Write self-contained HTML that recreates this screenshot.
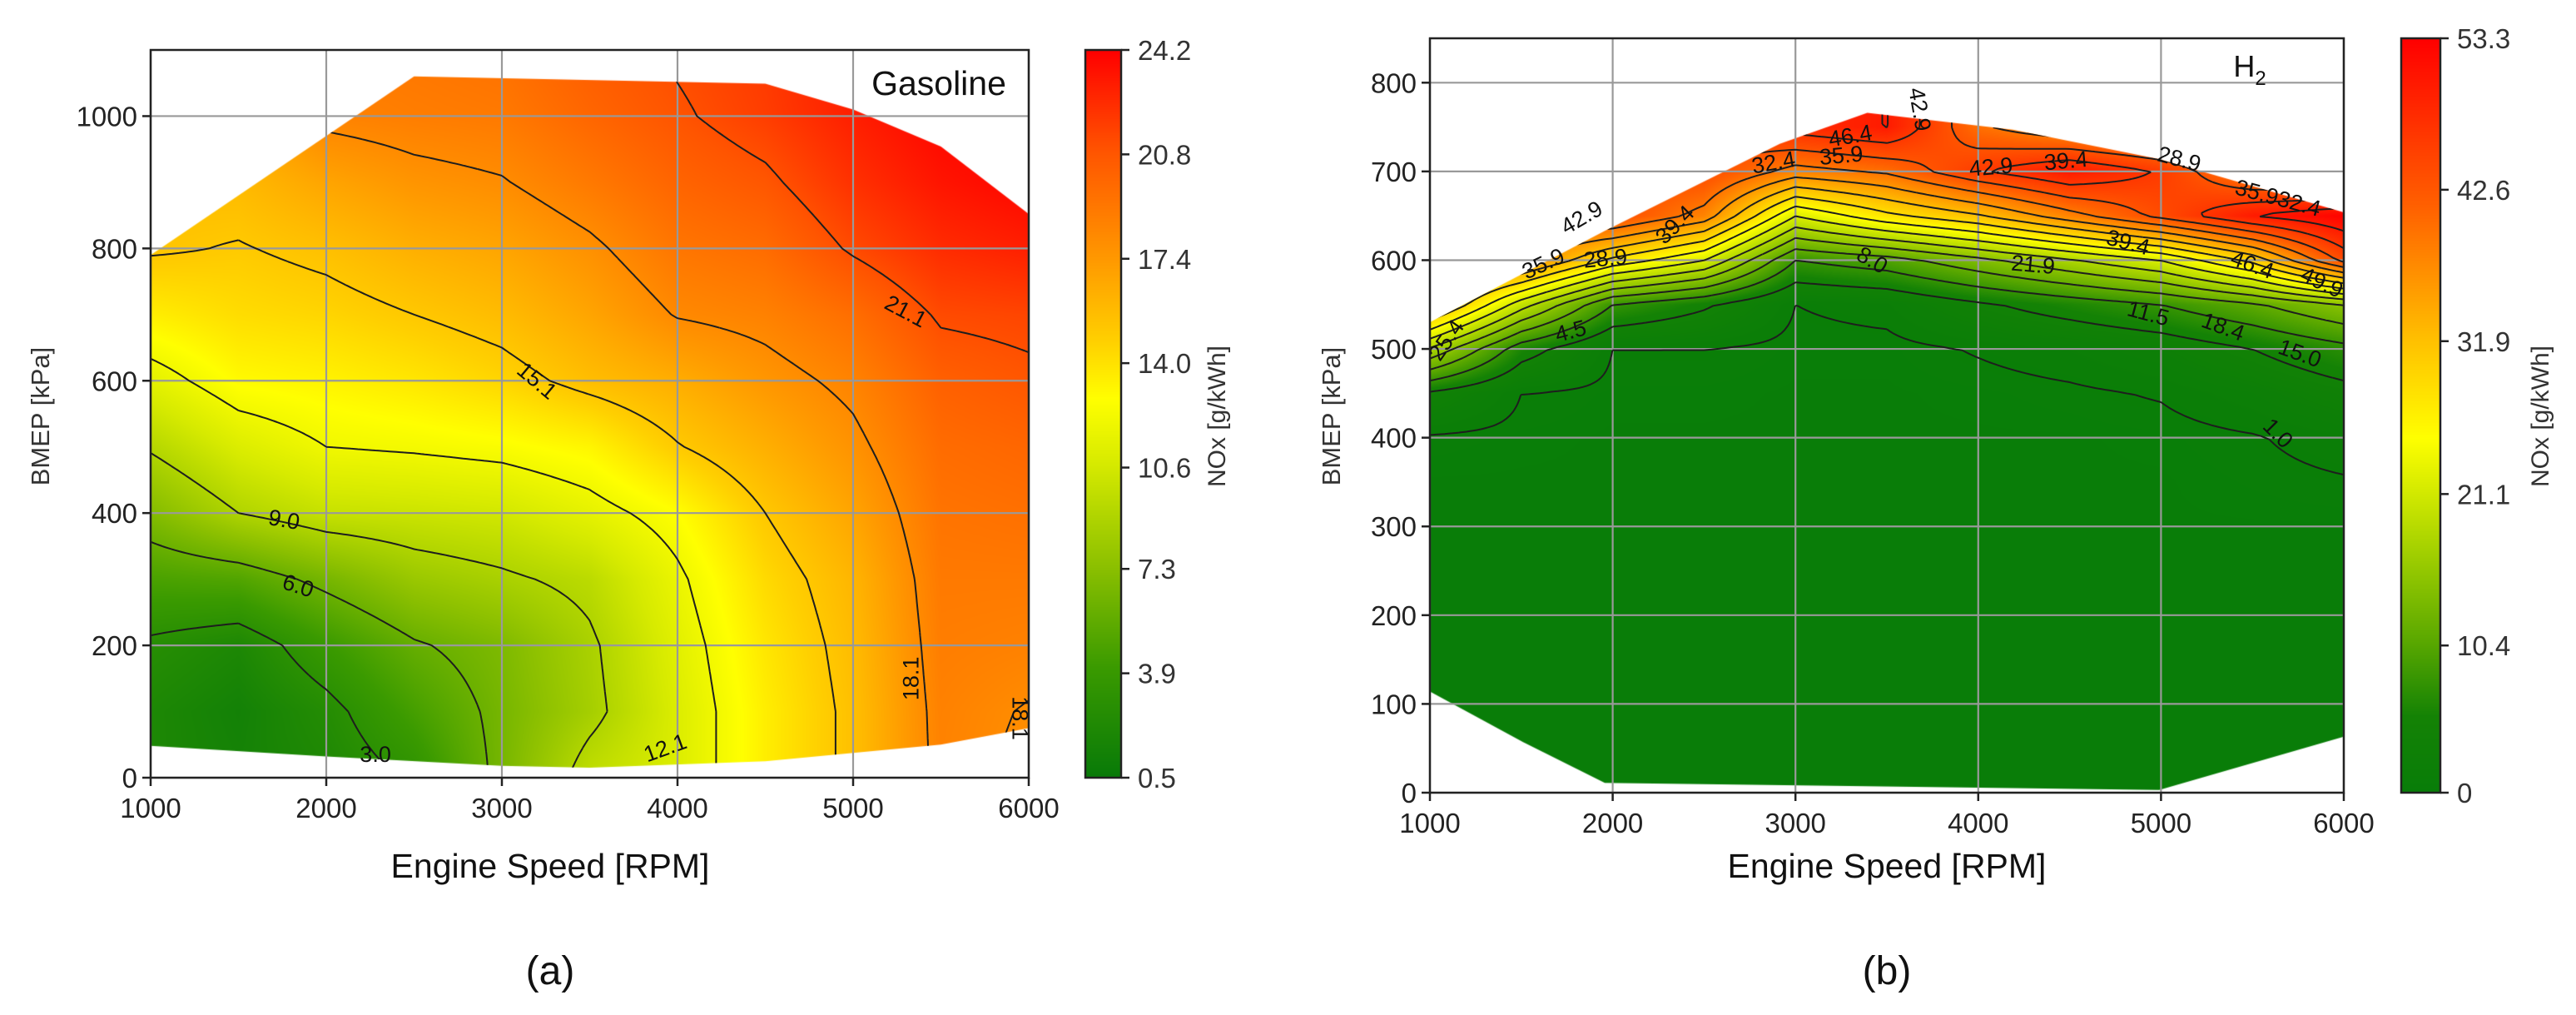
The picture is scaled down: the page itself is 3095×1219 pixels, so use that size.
<!DOCTYPE html>
<html><head><meta charset="utf-8">
<style>
html,body{margin:0;padding:0;background:#fff;}
#root{position:relative;width:3095px;height:1219px;overflow:hidden;font-family:"Liberation Sans",sans-serif;}
canvas{position:absolute;}
svg{position:absolute;left:0;top:0;}
</style></head>
<body>
<div id="root">
<canvas id="cvA"></canvas>
<canvas id="cvB"></canvas>
<canvas id="cbA"></canvas>
<canvas id="cbB"></canvas>
<svg id="ov" width="3095" height="1219" xmlns="http://www.w3.org/2000/svg"></svg>
</div>
<script>
// ---------- Data: Gasoline ----------
const gasRpm=[1000,1500,2000,2500,3000,3500,4000,4500,5000,5500,6000];
const gasBmep=[0,100,200,300,400,500,600,700,800,900,1000,1100];
// NOx [g/kWh], one array per rpm column, values per bmep row
const gasNox=[
[2.0,2.0,2.7,4.7,7.0,9.2,11.4,13.5,15.3,15.6,15.8,16.0],
[1.5,1.3,2.0,5.0,9.0,11.0,13.0,14.2,15.0,15.8,16.5,17.0],
[2.0,2.5,4.0,6.5,10.0,12.1,13.3,14.5,15.5,16.8,18.5,19.0],
[3.2,4.5,5.8,8.0,10.2,12.3,13.8,15.1,16.3,17.6,18.8,19.2],
[6.5,6.5,6.8,8.7,10.5,12.6,14.5,15.7,16.8,18.0,19.0,19.5],
[9.8,8.5,8.7,9.5,11.5,13.2,15.6,16.8,17.8,19.0,20.0,20.5],
[11.0,11.0,11.3,11.8,12.8,15.0,16.4,18.2,19.2,20.1,20.9,21.3],
[13.5,13.5,13.8,14.3,15.1,16.3,17.5,18.6,19.7,20.8,21.8,22.0],
[15.5,15.5,15.7,16.0,16.8,17.7,18.5,19.6,21.3,22.3,23.0,23.3],
[18.5,18.6,18.8,19.0,19.3,19.7,20.3,21.3,22.5,23.4,24.0,24.2],
[17.8,18.0,18.6,19.0,19.5,20.0,20.8,21.5,23.0,24.0,24.2,24.2]];
const gasBoundRpm=[1000,2000,3000,3500,4500,5500,6000,6000,5500,5000,4500,2500,1000];
const gasBoundBmep=[48,32,18,15,25,50,75,852,954,1010,1049,1060,790];
const gasLevels=[3.0,6.0,9.0,12.1,15.1,18.1,21.1];
const gasCbTicks=["0.5","3.9","7.3","10.6","14.0","17.4","20.8","24.2"];
const gasLabelText=["3.0","6.0","9.0","12.1","15.1","18.1","21.1","18.1"];
const gasLabelRpm=[2280,1840,1760,3930,3200,5330,5300,5950];
const gasLabelBmep=[35,290,390,45,600,150,705,90];
const gasLabelAng=[0,18,10,-20,40,-90,28,90];
// ---------- Data: H2 ----------
const h2Rpm=[1000,1500,2000,2500,3000,3500,4000,4500,5000,5500,6000];
const h2Bmep=[0,50,100,150,200,250,300,350,400,450,500,550,600,650,700,750,800,850];
const h2Nox=[
[0.5,0.5,0.5,0.5,0.5,0.5,0.5,0.5,0.8,4,18,35,40,40,40,40,40,40],
[0.5,0.5,0.5,0.5,0.5,0.5,0.5,0.5,0.6,1.0,6,20,38,42,42,42,42,42],
[0.5,0.5,0.5,0.5,0.5,0.5,0.5,0.5,0.5,0.6,1.0,8,28,44,44,44,44,44],
[0.5,0.5,0.5,0.5,0.5,0.5,0.5,0.5,0.5,0.6,1.0,5,22,38,44,44,44,44],
[0.5,0.5,0.5,0.5,0.5,0.5,0.5,0.5,0.5,0.5,0.6,1.0,8,22,38,48,48,48],
[0.5,0.5,0.5,0.5,0.5,0.5,0.5,0.5,0.5,0.5,0.6,1.5,10,28,40,50,50,50],
[0.5,0.5,0.5,0.5,0.5,0.5,0.5,0.5,0.5,0.6,1.1,4,14,32,46,40,40,40],
[0.5,0.5,0.5,0.5,0.5,0.5,0.5,0.5,0.5,0.8,1.6,6,18,38,50,36,36,36],
[0.5,0.5,0.5,0.5,0.5,0.5,0.5,0.5,0.6,1.1,2.5,8,22,44,46,34,34,34],
[0.5,0.5,0.5,0.5,0.5,0.5,0.5,0.7,0.9,2.0,4.5,11,30,50,38,34,34,34],
[0.5,0.5,0.5,0.5,0.5,0.5,0.5,0.9,1.5,3.5,7,15,44,53,35,32,32,32]];
const h2BoundRpm=[1000,1510,1957,4990,6000,6000,4988,4190,3393,2914,1957,1000];
const h2BoundBmep=[114,57,11,3,63,654,714,747,766,731,633,530];
const h2Levels=[1.0,4.5,8.0,11.5,15.0,18.4,21.9,25.4,28.9,32.4,35.9,39.4,42.9,46.4,49.9];
const h2CbTicks=["0","10.4","21.1","31.9","42.6","53.3"];
const h2LabelText=["25.4","35.9","28.9","39.4","42.9","32.4","35.9","46.4","42.9","42.9","39.4","28.9","35.932.4","39.4","21.9","8.0","4.5","11.5","18.4","46.4","49.9","15.0","1.0"];
const h2LabelRpm=[1090,1620,1960,2340,1830,2880,3250,3300,3680,4070,4480,5100,5640,4820,4300,3420,1770,4930,5340,5500,5880,5760,5640];
const h2LabelBmep=[510,596,602,640,648,710,718,740,770,705,712,714,670,620,595,600,520,540,525,595,575,495,405];
const h2LabelAng=[-55,-25,-5,-45,-30,-10,-5,-10,80,-5,-5,15,15,15,5,30,-15,15,20,20,25,20,45];

// ---------- Layout ----------
const P={
 a:{l:181,r:1236,t:60,b:934,x0:1000,x1:6000,y0:0,y1:1100},
 b:{l:1718,r:2816,t:46,b:952,x0:1000,x1:6000,y0:0,y1:850}};
function sx(p,v){return p.l+(v-p.x0)/(p.x1-p.x0)*(p.r-p.l);}
function sy(p,v){return p.b-(v-p.y0)/(p.y1-p.y0)*(p.b-p.t);}
const cmapA=[[0,[8,122,8]],[0.15,[58,154,0]],[0.29,[140,192,0]],[0.43,[214,234,0]],[0.52,[255,255,0]],[0.6,[255,208,0]],[0.71,[255,154,0]],[0.86,[255,85,0]],[1,[255,0,0]]];
const cmapB=[[0,[8,125,8]],[0.1,[20,130,5]],[0.2,[90,168,0]],[0.38,[200,228,0]],[0.47,[255,255,0]],[0.6,[255,192,0]],[0.78,[255,95,0]],[1,[255,0,0]]];
function cm(st,t){t=Math.max(0,Math.min(1,t));for(let i=1;i<st.length;i++){if(t<=st[i][0]){const a=st[i-1],b=st[i],f=(t-a[0])/(b[0]-a[0]);return [0,1,2].map(k=>Math.round(a[1][k]+(b[1][k]-a[1][k])*f));}}return st[st.length-1][1];}
function field(xs,ys,z,x,y){
 let i=0;while(i<xs.length-2&&x>xs[i+1])i++;
 let j=0;while(j<ys.length-2&&y>ys[j+1])j++;
 let fx=(x-xs[i])/(xs[i+1]-xs[i]),fy=(y-ys[j])/(ys[j+1]-ys[j]);
 fx=Math.max(0,Math.min(1,fx));fy=Math.max(0,Math.min(1,fy));
 const a=z[i][j],b=z[i+1][j],c=z[i][j+1],d=z[i+1][j+1];
 return a*(1-fx)*(1-fy)+b*fx*(1-fy)+c*(1-fx)*fy+d*fx*fy;
}
const NS='http://www.w3.org/2000/svg';
const ov=document.getElementById('ov');
function el(tag,attrs,parent){const e=document.createElementNS(NS,tag);for(const k in attrs)e.setAttribute(k,attrs[k]);(parent||ov).appendChild(e);return e;}
function txt(s,x,y,size,anchor,extra,parent){const t=el('text',Object.assign({x:x,y:y,'font-size':size,'text-anchor':anchor||'middle','font-family':'Liberation Sans, sans-serif',fill:'#222'},extra||{}),parent);t.textContent=s;return t;}

function drawPanel(key,xs,ys,z,vmin,vmax,cmap,bR,bB,levels,lt,lr,lb,la,cvId,yStep,name){
 const p=P[key];
 const W=p.r-p.l,H=p.b-p.t;
 const cv=document.getElementById(cvId);cv.width=W;cv.height=H;cv.style.left=p.l+'px';cv.style.top=p.t+'px';
 const off=document.createElement('canvas');off.width=W;off.height=H;
 const octx=off.getContext('2d');const img=octx.createImageData(W,H);
 for(let py=0;py<H;py++){const yv=p.y1-(py+0.5)/H*(p.y1-p.y0);
  for(let px=0;px<W;px++){const xv=p.x0+(px+0.5)/W*(p.x1-p.x0);
   const v=field(xs,ys,z,xv,yv);const c=cm(cmap,(v-vmin)/(vmax-vmin));const o=(py*W+px)*4;
   img.data[o]=c[0];img.data[o+1]=c[1];img.data[o+2]=c[2];img.data[o+3]=255;}}
 octx.putImageData(img,0,0);
 const ctx=cv.getContext('2d');ctx.save();ctx.beginPath();
 bR.forEach((r,i)=>{const X=sx(p,r)-p.l,Y=sy(p,bB[i])-p.t;i?ctx.lineTo(X,Y):ctx.moveTo(X,Y);});
 ctx.closePath();ctx.clip();ctx.drawImage(off,0,0);ctx.restore();
 const defs=el('defs',{});const cp=el('clipPath',{id:'clip'+key},defs);
 el('polygon',{points:bR.map((r,i)=>sx(p,r)+','+sy(p,bB[i])).join(' ')},cp);
 const g=el('g',{});
 for(let x=p.x0;x<=p.x1;x+=1000){el('line',{x1:sx(p,x),x2:sx(p,x),y1:p.t,y2:p.b,stroke:'#999','stroke-width':2.2},g);}
 for(let y=0;y<=p.y1;y+=yStep){el('line',{x1:p.l,x2:p.r,y1:sy(p,y),y2:sy(p,y),stroke:'#999','stroke-width':2.2},g);}
 const cg=el('g',{'clip-path':'url(#clip'+key+')',fill:'none',stroke:'#1e1e1e','stroke-width':2});
 
 const NX=250,NY=220;const gx=[],gy=[];for(let i=0;i<=NX;i++)gx.push(p.x0+(p.x1-p.x0)*i/NX);for(let j=0;j<=NY;j++)gy.push(p.y0+(p.y1-p.y0)*j/NY);
 const V=gx.map(x=>gy.map(y=>field(xs,ys,z,x,y)));
 levels.forEach(L=>{let d='';
  for(let i=0;i<NX;i++)for(let j=0;j<NY;j++){
   const a=V[i][j],b=V[i+1][j],c=V[i+1][j+1],e=V[i][j+1];
   const pts=[];
   const ed=(v1,v2,x1,y1,x2,y2)=>{if((v1<L)!==(v2<L)){const f=(L-v1)/(v2-v1);pts.push([x1+(x2-x1)*f,y1+(y2-y1)*f]);}};
   ed(a,b,gx[i],gy[j],gx[i+1],gy[j]);ed(b,c,gx[i+1],gy[j],gx[i+1],gy[j+1]);ed(c,e,gx[i+1],gy[j+1],gx[i],gy[j+1]);ed(e,a,gx[i],gy[j+1],gx[i],gy[j]);
   for(let k=0;k+1<pts.length;k+=2){d+='M'+sx(p,pts[k][0]).toFixed(1)+' '+sy(p,pts[k][1]).toFixed(1)+'L'+sx(p,pts[k+1][0]).toFixed(1)+' '+sy(p,pts[k+1][1]).toFixed(1);}
  }
  if(d){const path=el('path',{d:d},cg);}
 });
 lt.forEach((s,i)=>{const X=sx(p,lr[i]),Y=sy(p,lb[i]);
  const t=txt(s,X,Y+9,27,'middle',{transform:'rotate('+la[i]+' '+X+' '+Y+')',fill:'#111'});
  });
 const fr=el('rect',{x:p.l,y:p.t,width:W,height:H,fill:'none',stroke:'#222','stroke-width':2.5});
 
 for(let x=p.x0;x<=p.x1;x+=1000){const X=sx(p,x);el('line',{x1:X,x2:X,y1:p.b,y2:p.b+10,stroke:'#222','stroke-width':2.5});
  const t=txt(String(x),X,p.b+48,33,'middle');}
 for(let y=0;y<=p.y1;y+=yStep){const Y=sy(p,y);el('line',{x1:p.l-10,x2:p.l,y1:Y,y2:Y,stroke:'#222','stroke-width':2.5});
  const t=txt(String(y),p.l-16,Y+12,33,'end');}
}

drawPanel('a',gasRpm,gasBmep,gasNox,0.5,24.2,cmapA,gasBoundRpm,gasBoundBmep,gasLevels,gasLabelText,gasLabelRpm,gasLabelBmep,gasLabelAng,'cvA',200,'gasoline');
drawPanel('b',h2Rpm,h2Bmep,h2Nox,0,53.3,cmapB,h2BoundRpm,h2BoundBmep,h2Levels,h2LabelText,h2LabelRpm,h2LabelBmep,h2LabelAng,'cvB',100,'h2');

function colorbar(id,x,y,w,h,cmap,ticks,vmin,vmax,name,labX){
 const c=document.getElementById(id);c.width=w;c.height=h;c.style.left=x+'px';c.style.top=y+'px';
 const ctx=c.getContext('2d');
 for(let py=0;py<h;py++){const col=cm(cmap,1-py/(h-1));ctx.fillStyle='rgb('+col.join(',')+')';ctx.fillRect(0,py,w,1);}
 el('rect',{x:x,y:y,width:w,height:h,fill:'none',stroke:'#222','stroke-width':2.5});
 ticks.forEach(s=>{const v=parseFloat(s);const Y=y+h-(v-vmin)/(vmax-vmin)*h;
  el('line',{x1:x+w,x2:x+w+10,y1:Y,y2:Y,stroke:'#222','stroke-width':2.5});
  const t=txt(s,x+w+20,Y+12,33,'start',{fill:'#333'});});
 const lt=txt('NOx [g/kWh]',labX,500,30,'middle',{transform:'rotate(-90 '+labX+' 500)',fill:'#333'});
 
}
colorbar('cbA',1304,60,43,874,cmapA,gasCbTicks,0.5,24.2,'gasoline-colorbar',1472);
colorbar('cbB',2885,46,47,906,cmapB,h2CbTicks,0,53.3,'h2-colorbar',3062);

let t;
t=txt('Engine Speed [RPM]',661,1054,41,'middle',{fill:'#111'});
t=txt('Engine Speed [RPM]',2267,1054,41,'middle',{fill:'#111'});
t=txt('BMEP [kPa]',59,500,31,'middle',{transform:'rotate(-90 59 500)',fill:'#333'});
t=txt('BMEP [kPa]',1610,500,31,'middle',{transform:'rotate(-90 1610 500)',fill:'#333'});
t=txt('(a)',661,1182,48,'middle',{fill:'#111'});
t=txt('(b)',2267,1182,48,'middle',{fill:'#111'});
t=txt('Gasoline',1128,114,41,'middle',{fill:'#111'});
t=txt('H',2703,92,36,'middle',{fill:'#111'});
const sub=el('tspan',{'font-size':24,dy:10},t);sub.textContent='2';
</script>
</body></html>
